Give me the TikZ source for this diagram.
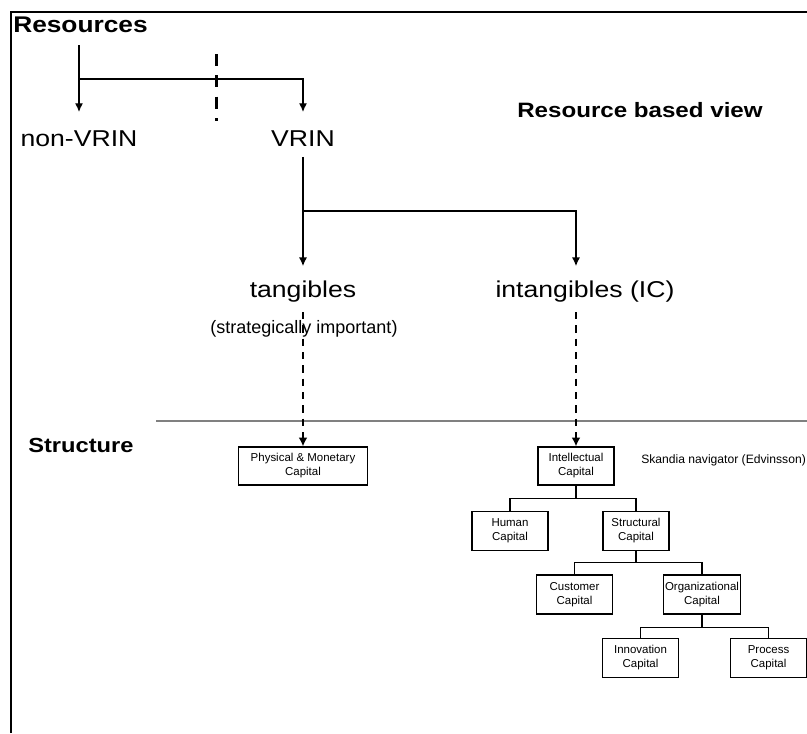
\documentclass[tikz,border=0pt]{standalone}
\usepackage{fontspec}
\setmainfont{Liberation Sans}
\newfontfamily\widesans[FakeStretch=1.16]{Liberation Sans}
\usetikzlibrary{positioning,arrows.meta}

\begin{document}
\begin{tikzpicture}[x=0.75pt,y=-0.75pt,
    % Text styles
    big/.style={font=\widesans\fontsize{17.2pt}{20pt}\selectfont,anchor=base,inner sep=0pt},
    head/.style={font=\widesans\bfseries\fontsize{#1}{19pt}\selectfont,anchor=base west,inner sep=0pt},
    note/.style={font=\fontsize{13.5pt}{16pt}\selectfont,anchor=base,inner sep=0pt},
    % Box style
    capbox/.style={rectangle,draw,line width=0.9pt,minimum width=57pt,minimum height=29.25pt,
        inner sep=1pt,align=center,font=\fontsize{8.6pt}{10.5pt}\selectfont},
    link/.style={line width=0.9pt},
    arr/.style={link,-{Latex[length=6.5pt,width=6pt]}},
    darr/.style={line width=2pt,dash pattern=on 5.5pt off 4.5pt,-{Latex[length=6.5pt,width=6.5pt]}},
    node distance=48pt and 47pt,on grid]

    \useasboundingbox (0,0) rectangle (807,733);
    \draw[line width=1.7pt] (11,733) -- (11,12) -- (807,12);

    % Place nodes
    \node [head=17pt] (res) at (13,32) {Resources};
    \node [big] (nonvrin) at (79,146) {non-VRIN};
    \node [big] (vrin) at (303,146) {VRIN};
    \node [head=15.6pt] (rbv) at (517,117) {Resource based view};
    \node [big] (tang) at (303,297) {tangibles};
    \node [big] (intang) at (585,297) {intangibles (IC)};
    \node [note] (strat) at (304,333) {(strategically important)};

    \node [head=15.3pt] (structlbl) at (28,452) {Structure};
    \node [anchor=base west,inner sep=0pt,font=\fontsize{9.1pt}{11pt}\selectfont] (skandia) at (641,463) {Skandia navigator (Edvinsson)};

    \node [capbox,minimum width=96.75pt,minimum height=28.5pt] (phys) at (303,466) {Physical \& Monetary\\Capital};
    \node [capbox,minimum height=28.5pt] (intel) at (576,466) {Intellectual\\Capital};
    \node [capbox,below left=48.75pt and 49.5pt of intel] (human) {Human\\Capital};
    \node [capbox,minimum width=49.5pt,below right=48.75pt and 45pt of intel] (structcap) {Structural\\Capital};
    \node [capbox,below left=47.6pt and 46.1pt of structcap] (customer) {Customer\\Capital};
    \node [capbox,below right=47.6pt and 49.5pt of structcap] (org) {Organizational\\Capital};
    \node [capbox,below left=47.6pt and 46.1pt of org] (innov) {Innovation\\Capital};
    \node [capbox,below right=47.6pt and 49.9pt of org] (process) {Process\\Capital};

    \coordinate (restop) at (79,45);
    \coordinate (split) at (79,79);
    \coordinate (split2) at (303,211);

    % Divider
    \draw [line width=2.2pt,dash pattern=on 9pt off 7pt] (216.5,54) -- (216.5,121);
    \draw [line width=1.1pt,black!50] (156,421) -- (807,421);

    % Draw edges
    \draw [link] (restop) -- (split);
    \draw [arr,shorten >=13.5pt] (split) -- (nonvrin.north);
    \draw [arr,shorten >=13.5pt] (split) -| (vrin.north);
    \draw [link,shorten <=8pt] (vrin.south) -- (split2);
    \draw [arr,shorten >=10.5pt] (split2) -- (tang.north);
    \draw [arr,shorten >=10.5pt] (split2) -| (intang.north -| intel.north);
    \draw [darr,shorten <=7.5pt] (tang.south) -- (phys.north);
    \draw [darr,shorten <=7.5pt] (intang.south -| intel.north) -- (intel.north);

    \draw [link] (intel.south) -- ++(0,13) -| (human.north);
    \draw [link] (intel.south) -- ++(0,13) -| (structcap.north);
    \draw [link] (structcap.south) -- ++(0,11.5) -| (customer.north);
    \draw [link] (structcap.south) -- ++(0,11.5) -| (org.north);
    \draw [link] (org.south) -- ++(0,13) -| (innov.north);
    \draw [link] (org.south) -- ++(0,13) -| (process.north);
\end{tikzpicture}
\end{document}
